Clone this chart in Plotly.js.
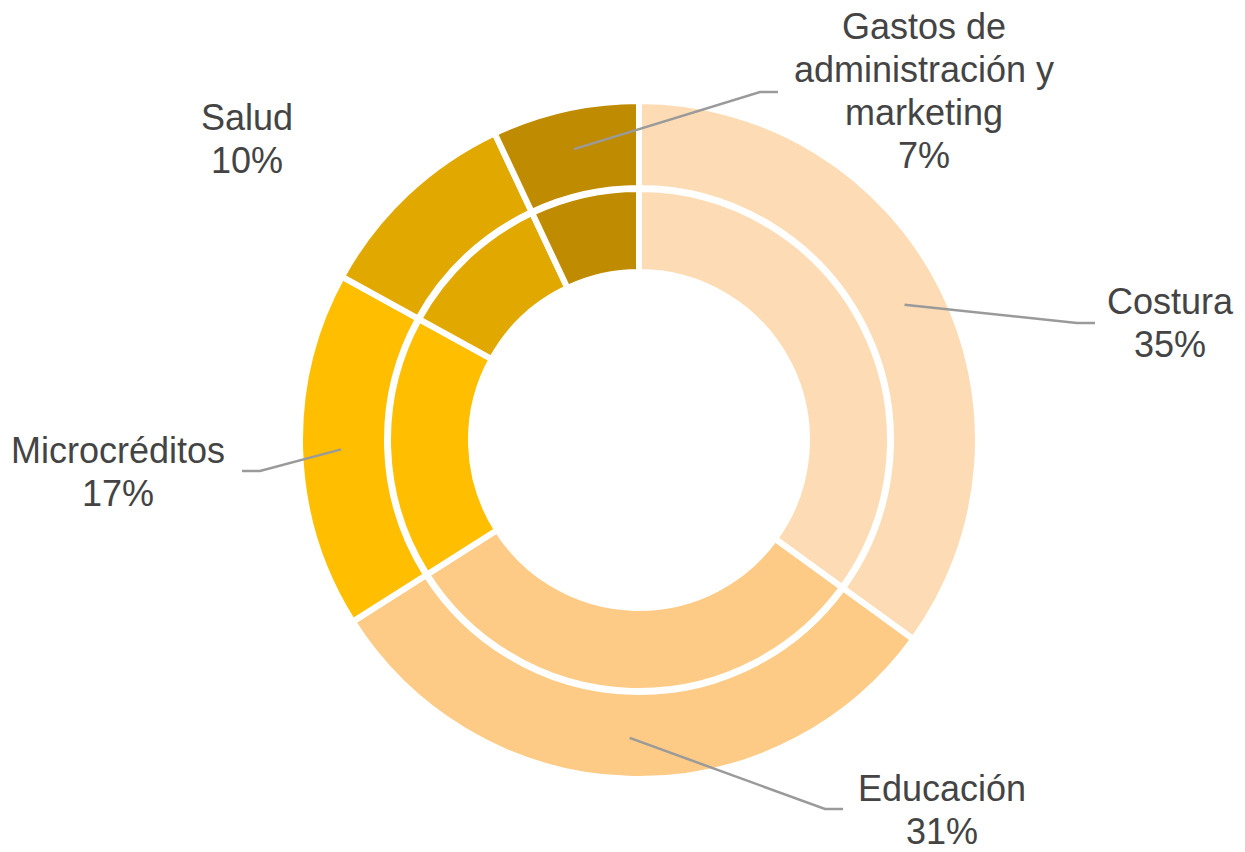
<!DOCTYPE html>
<html>
<head>
<meta charset="utf-8">
<script src="https://cdn.plot.ly/plotly-3.0.1.min.js"></script>
<style>html,body{margin:0;padding:0;background:#fff;}#chart{width:1245px;height:852px;}</style>
</head>
<body>
<div id="chart"></div>
<script>
// ---- data ----
var categories = ["Costura", "Educación", "Microcréditos", "Salud", "Gastos de administración y marketing"];
var labelLines = [["Costura"], ["Educación"], ["Microcréditos"], ["Salud"], ["Gastos de", "administración y", "marketing"]];
var values = [35, 31, 17, 10, 7];
var colors = ["#FDDCB5", "#FDCB86", "#FFBF00", "#E1A900", "#BF8B00"];

// ---- layout config (pixels) ----
var W = 1245, H = 852;
var cx = 639, cy = 440;
var outerR = 339, outerHole = 252;
var innerR = 251, innerHole = 168;
var leaderR = 298;
var lineGap = 43;
// label anchor (x center, y center of block) and leader corner/end, per category
var labelCfg = [
  {x: 1170, y: 323, corner: [1077, 323], end: [1095, 323], lead: true},
  {x: 942,  y: 810, corner: [825, 809],  end: [843, 809],  lead: true},
  {x: 118,  y: 472, corner: [260, 471],  end: [242, 471],  lead: true},
  {x: 247,  y: 139, lead: false},
  {x: 924,  y: 91,  corner: [760, 92],   end: [778, 92],   lead: true}
];

function px(x){ return x / W; }
function py(y){ return 1 - y / H; }

var total = values.reduce(function(a,b){return a+b;}, 0);
var pct = values.map(function(v){ return Math.round(v / total * 100) + "%"; });

function pieTrace(R, hole){
  return {
    type: "pie",
    labels: categories,
    values: values,
    sort: false,
    direction: "clockwise",
    rotation: 0,
    hole: hole / R,
    marker: {colors: colors, line: {color: "#ffffff", width: 6}},
    textinfo: "none",
    hoverinfo: "label+percent",
    showlegend: false,
    domain: {x: [px(cx - R), px(cx + R)], y: [py(cy + R), py(cy - R)]}
  };
}

var traces = [pieTrace(outerR, outerHole), pieTrace(innerR, innerHole)];

var annotations = [];
var shapes = [];
var cum = 0;
values.forEach(function(v, i){
  var mid = (cum + v / 2) / total * 2 * Math.PI; // clockwise from top
  cum += v;
  var sx = cx + leaderR * Math.sin(mid);
  var sy = cy - leaderR * Math.cos(mid);
  var c = labelCfg[i];
  var lines = labelLines[i].concat([pct[i]]);
  var y0 = c.y - (lines.length - 1) * lineGap / 2;
  lines.forEach(function(t, k){
    annotations.push({
      x: px(c.x), y: py(y0 + k * lineGap), xref: "paper", yref: "paper",
      xanchor: "center", yanchor: "middle", align: "center",
      text: t,
      showarrow: false,
      font: {family: "Liberation Sans, Arial, sans-serif", size: 36, color: "#444444"}
    });
  });
  if (c.lead) {
    shapes.push({
      type: "path", xref: "paper", yref: "paper",
      path: "M " + px(sx) + " " + py(sy) + " L " + px(c.corner[0]) + " " + py(c.corner[1]) + " L " + px(c.end[0]) + " " + py(c.end[1]),
      line: {color: "#9A9A9A", width: 2.5}
    });
  }
});

var layout = {
  width: W, height: H,
  margin: {l: 0, r: 0, t: 0, b: 0},
  paper_bgcolor: "#ffffff",
  plot_bgcolor: "#ffffff",
  showlegend: false,
  annotations: annotations,
  shapes: shapes
};

Plotly.newPlot("chart", traces, layout, {displayModeBar: false, staticPlot: true});
</script>
</body>
</html>
